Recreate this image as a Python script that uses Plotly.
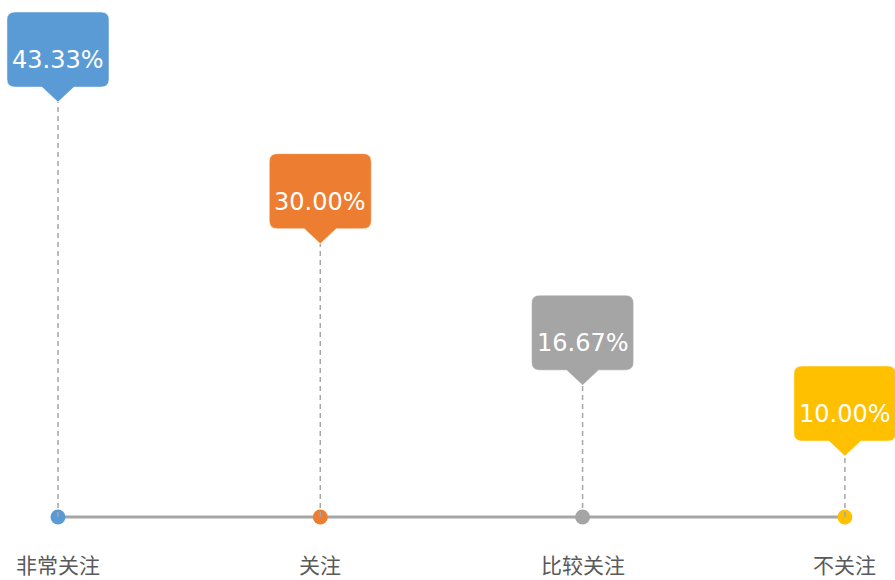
import plotly.graph_objects as go

categories = ["非常关注", "关注", "比较关注", "不关注"]
values = [43.33, 30.00, 16.67, 10.00]
value_labels = ["43.33%", "30.00%", "16.67%", "10.00%"]
colors = ["#5B9BD5", "#ED7D31", "#A5A5A5", "#FFC000"]

BASE = 4.26          # value level where the horizontal axis line sits
LINE_GREY = "#A6A6A6"

xs = list(range(len(categories)))

fig = go.Figure()

# horizontal base line
fig.add_trace(go.Scatter(
    x=[xs[0], xs[-1]], y=[BASE, BASE], mode="lines",
    line=dict(color=LINE_GREY, width=3), hoverinfo="skip", showlegend=False))

# dots on the base line
fig.add_trace(go.Scatter(
    x=xs, y=[BASE] * len(xs), mode="markers",
    marker=dict(color=colors, size=15, line=dict(width=0)),
    hoverinfo="skip", showlegend=False))

# dashed stems from the base line up to each value
for x, v in zip(xs, values):
    fig.add_trace(go.Scatter(
        x=[x, x], y=[BASE, v], mode="lines",
        line=dict(color=LINE_GREY, width=1.5, dash="5px,4px"),
        hoverinfo="skip", showlegend=False))

# callout bubble (pixel offsets from the pointer tip, y upward)
W, R, TRI_W, TRI_H, BOX_H = 51, 8, 16, 15, 75
top = TRI_H + BOX_H
callout_path = (
    f"M 0 0 L {TRI_W} {TRI_H} L {W - R} {TRI_H} Q {W} {TRI_H} {W} {TRI_H + R} "
    f"L {W} {top - R} Q {W} {top} {W - R} {top} "
    f"L {-W + R} {top} Q {-W} {top} {-W} {top - R} "
    f"L {-W} {TRI_H + R} Q {-W} {TRI_H} {-W + R} {TRI_H} "
    f"L {-TRI_W} {TRI_H} Z"
)

for x, v, lab, c in zip(xs, values, value_labels, colors):
    fig.add_shape(
        type="path", path=callout_path, xref="x", yref="y",
        xsizemode="pixel", ysizemode="pixel", xanchor=x, yanchor=v,
        fillcolor=c, line=dict(color="rgba(255,255,255,0.45)", width=1),
        layer="above")
    fig.add_annotation(
        x=x, y=v, xref="x", yref="y", text=lab, showarrow=False,
        yshift=42, font=dict(family="DejaVu Sans, Verdana", size=24, color="white"))

# category labels under the base line
for x, cat in zip(xs, categories):
    fig.add_annotation(
        x=x, y=BASE, xref="x", yref="y", text=cat, showarrow=False,
        yshift=-47, yanchor="middle",
        font=dict(family="Noto Sans CJK SC", size=21, color="#595959"))

fig.update_layout(
    width=895, height=580,
    margin=dict(l=0, r=0, t=0, b=0),
    paper_bgcolor="white", plot_bgcolor="white",
    xaxis=dict(range=[-0.221, 3.191], visible=False, fixedrange=True),
    yaxis=dict(range=[-1.67, 52.94], visible=False, fixedrange=True),
    showlegend=False,
)

fig.write_html("out.html")
